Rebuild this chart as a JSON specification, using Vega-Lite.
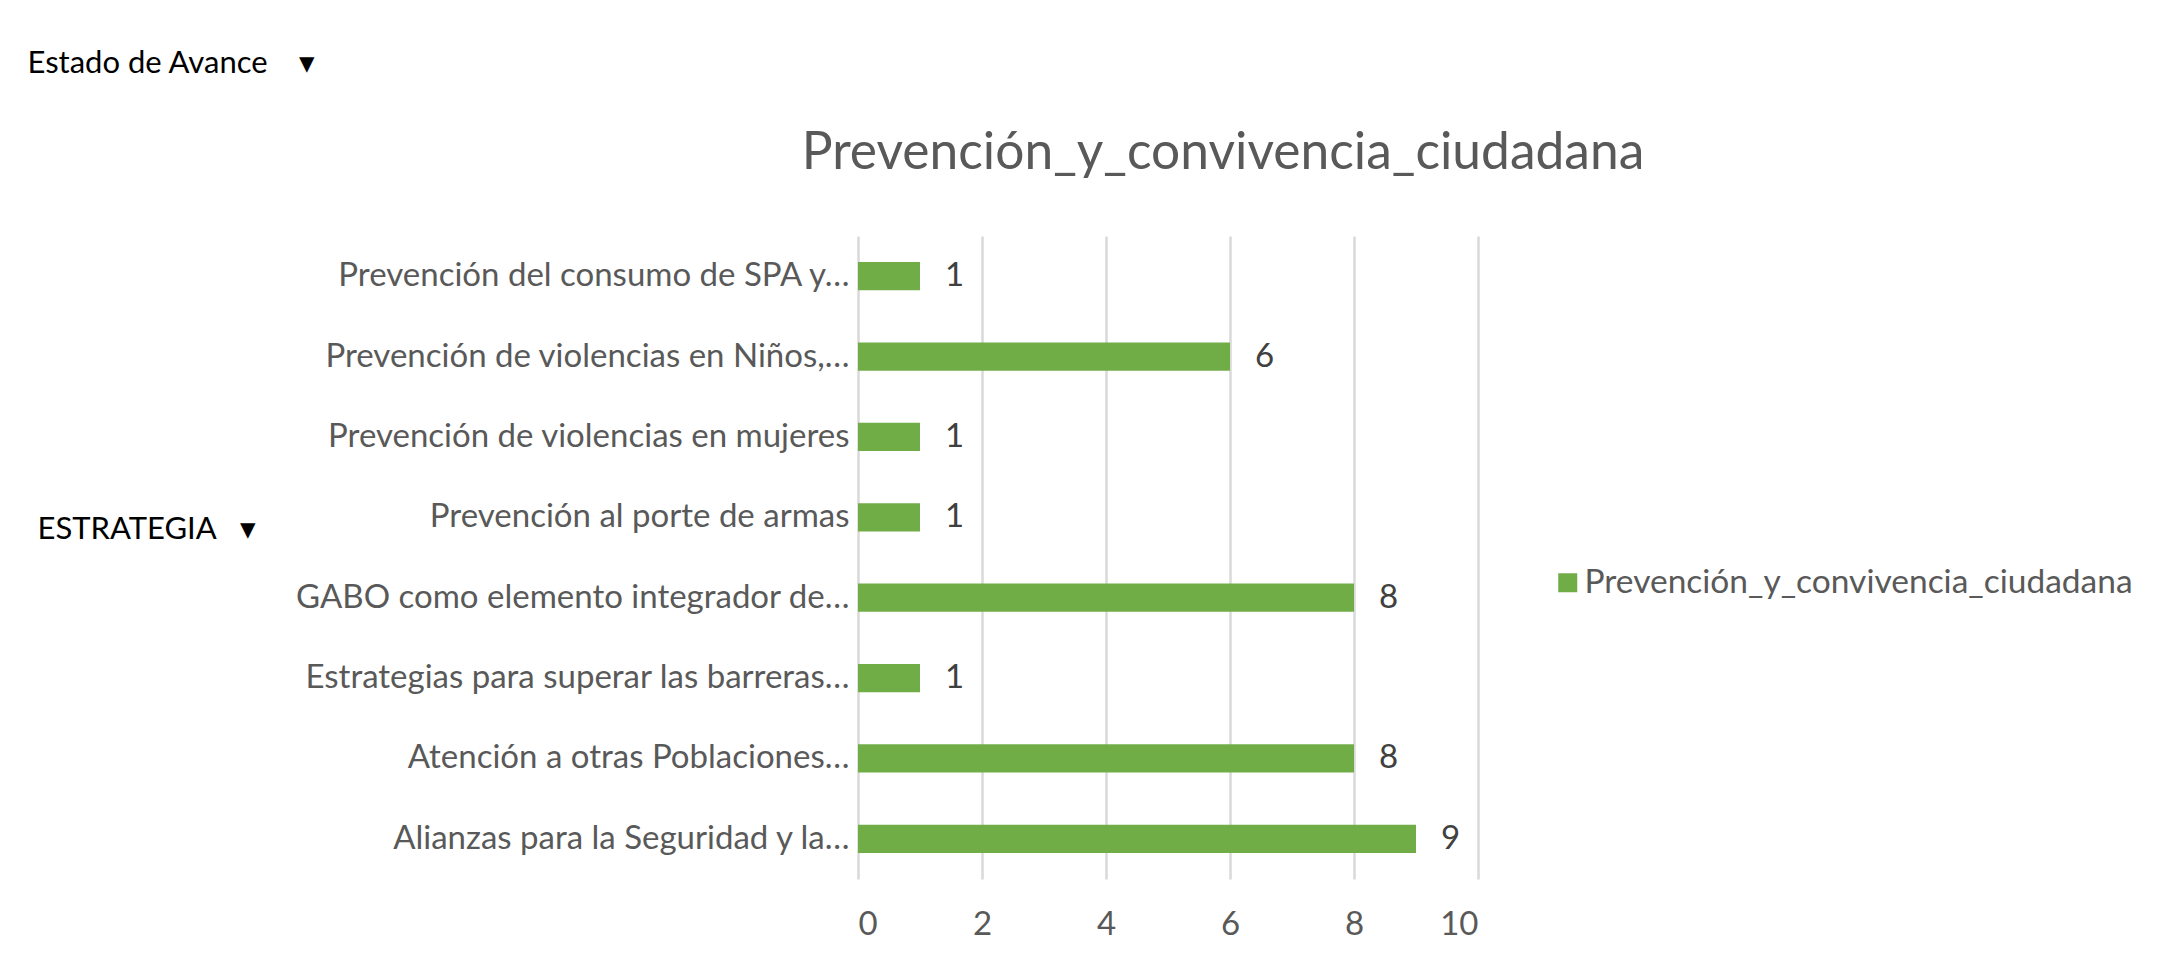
{
  "$schema": "https://vega.github.io/schema/vega-lite/v6.json",
  "autosize": {"type": "none"},
  "width": 620,
  "height": 643,
  "padding": {"left": 858, "top": 236, "right": 682, "bottom": 87},
  "background": "white",
  "title": {
    "text": "Prevención_y_convivencia_ciudadana",
    "font": "Lato",
    "fontSize": 51.5,
    "fontWeight": "normal",
    "color": "#595959",
    "anchor": "middle",
    "frame": "group",
    "dx": 55,
    "dy": 173,
    "offset": 0,
    "baseline": "alphabetic"
  },
  "data": {
    "values": [
      {"estrategia": "Prevención del consumo de SPA y…", "valor": 1},
      {"estrategia": "Prevención de violencias en Niños,…", "valor": 6},
      {"estrategia": "Prevención de violencias en mujeres\u2002\u2009", "valor": 1},
      {"estrategia": "Prevención al porte de armas\u2002\u2009", "valor": 1},
      {"estrategia": "GABO como elemento integrador de…", "valor": 8},
      {"estrategia": "Estrategias para superar las barreras…", "valor": 1},
      {"estrategia": "Atención a otras Poblaciones…", "valor": 8},
      {"estrategia": "Alianzas para la Seguridad y la…", "valor": 9}
    ]
  },
  "encoding": {
    "y": {
      "field": "estrategia",
      "type": "nominal",
      "sort": null,
      "scale": {"paddingInner": 0.65, "paddingOuter": 0.325},
      "axis": {
        "title": "ESTRATEGIA\u00a0\u00a0\u00a0▾",
        "titleAngle": 0,
        "titleAlign": "left",
        "titleBaseline": "middle",
        "titleX": -821,
        "titleY": 293,
        "titleFont": "Lato",
        "titleFontSize": 31,
        "titleFontWeight": "normal",
        "titleColor": "#000000",
        "domain": false,
        "ticks": false,
        "grid": false,
        "labelFont": "Lato",
        "labelFontSize": 33,
        "labelColor": "#595959",
        "labelPadding": 9,
        "labelLimit": 0
      }
    },
    "x": {
      "field": "valor",
      "type": "quantitative",
      "scale": {"domain": [0, 10], "nice": false},
      "axis": {
        "title": "Estado de Avance\u00a0\u00a0\u00a0\u00a0▾",
        "titleAlign": "left",
        "titleBaseline": "middle",
        "titleX": -831,
        "titleY": -816,
        "titleFont": "Lato",
        "titleFontSize": 31,
        "titleFontWeight": "normal",
        "titleColor": "#000000",
        "values": [0, 2, 4, 6, 8, 10],
        "domain": false,
        "ticks": false,
        "grid": true,
        "gridColor": "#d9d9d9",
        "gridWidth": 2.5,
        "labelFont": "Lato",
        "labelFontSize": 33,
        "labelColor": "#595959",
        "labelPadding": 29
      }
    }
  },
  "layer": [
    {
      "mark": {"type": "bar"},
      "encoding": {
        "color": {
          "datum": "Prevención_y_convivencia_ciudadana",
          "type": "nominal",
          "scale": {"range": ["#70ad47"]},
          "legend": {
            "title": null,
            "orient": "none",
            "legendX": 693,
            "legendY": 330,
            "padding": 0,
            "symbolType": "square",
            "symbolSize": 361,
            "symbolStrokeWidth": 0,
            "labelFont": "Lato",
            "labelFontSize": 33.5,
            "labelColor": "#595959",
            "labelOffset": 0,
            "labelLimit": 0
          }
        }
      }
    },
    {
      "mark": {
        "type": "text",
        "align": "left",
        "baseline": "middle",
        "dx": 25,
        "font": "Lato",
        "fontSize": 33,
        "color": "#404040"
      },
      "encoding": {"text": {"field": "valor", "type": "quantitative"}}
    }
  ],
  "config": {"view": {"stroke": null}}
}
